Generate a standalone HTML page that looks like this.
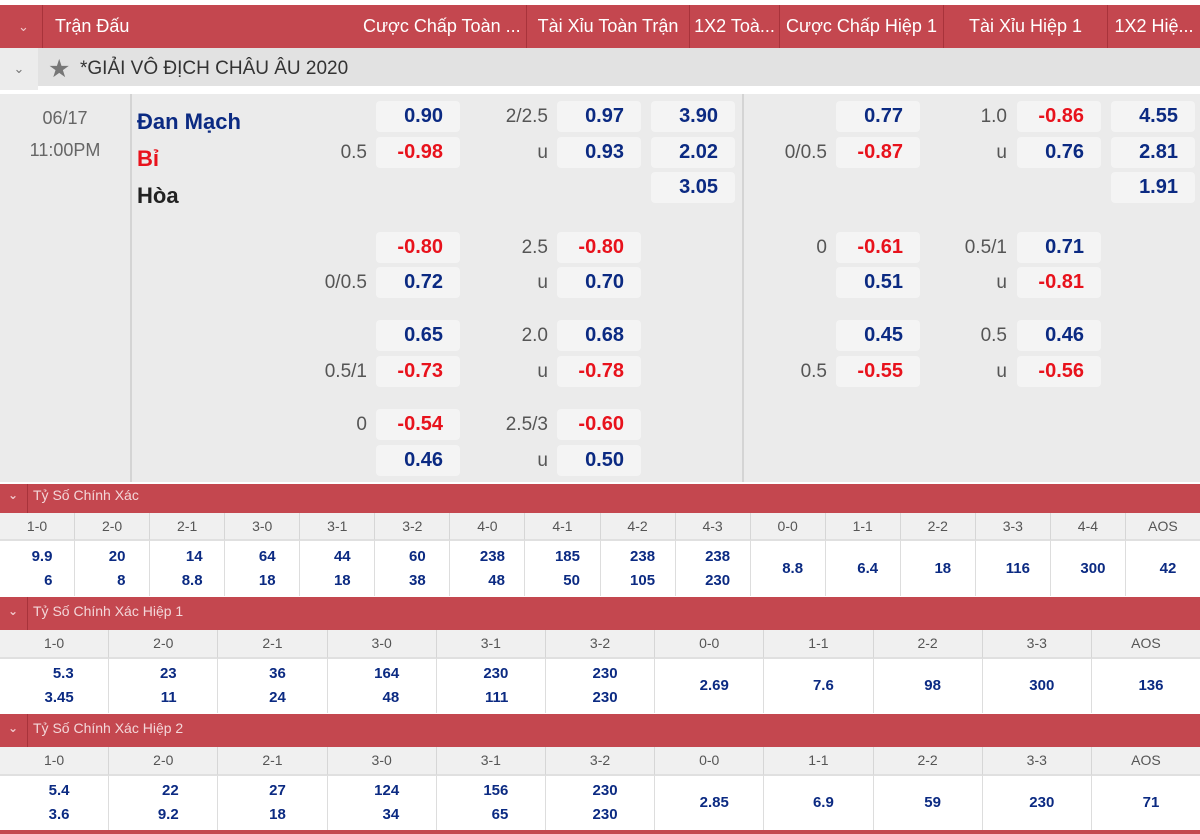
<!DOCTYPE html>
<html><head><meta charset="utf-8"><style>
*{margin:0;padding:0;box-sizing:border-box}
body{width:1200px;height:834px;overflow:hidden;background:#fff;font-family:"Liberation Sans","DejaVu Sans",sans-serif;position:relative}
.a{position:absolute}
.hd{top:5px;left:0;width:1200px;height:43px;background:#c4474f;color:#fff;font-size:18px}
.hd div{position:absolute;top:0;height:43px;line-height:43px;border-right:1px solid #a8333b;white-space:nowrap;overflow:hidden}
.lg{top:48px;left:0;width:1200px;height:42px;background:#e2e2e2;border-bottom:4px solid #fff}
.body{top:94px;left:0;width:1200px;height:388px;background:#ebebeb}
.b{position:absolute;width:84px;height:31px;line-height:31px;background:#f4f4f4;border-radius:4px;text-align:right;padding-right:17px;font-weight:bold;font-size:20px;color:#0b2a82}
.r{color:#e8121c}
.l{position:absolute;height:31px;line-height:31px;text-align:right;font-size:19px;color:#555;width:80px}
.bar{left:0;width:1200px;background:#c4474f;color:#f3d7d9;font-size:14px}
.bar span{position:absolute;left:33px}
.bar i{position:absolute;left:27px;top:0;bottom:0;border-left:1px solid #a8333b}
.hr{left:0;width:1200px;display:flex;background:#f0f0f0;font-size:14px;color:#555}
.hr div{flex:1;text-align:center;border-right:1px solid #d6d6d6;border-bottom:2px solid #e0e0e0}
.dr{left:0;width:1200px;display:flex;background:#fff;font-size:15px;font-weight:bold;color:#0b2a82}
.dr div{flex:1;border-right:1px solid #ddd;display:flex;align-items:center;justify-content:center;padding-left:10px;text-align:right;line-height:24px}
.chev{position:absolute;font-size:12px;color:#999}
</style></head><body>
<div class="a hd">
<div style="left:5px;width:38px;text-align:center;font-size:13px;color:#f0c8cb">&#8964;</div>
<div style="left:43px;width:484px;padding-left:12px">Trận Đấu<span style="position:absolute;left:320px">Cược Chấp Toàn ...</span></div>
<div style="left:527px;width:163px;text-align:center">Tài Xỉu Toàn Trận</div>
<div style="left:690px;width:90px;text-align:center">1X2 Toà...</div>
<div style="left:780px;width:164px;text-align:center">Cược Chấp Hiệp 1</div>
<div style="left:944px;width:164px;text-align:center">Tài Xỉu Hiệp 1</div>
<div style="left:1108px;width:92px;text-align:center;border:none">1X2 Hiệ...</div>
</div>
<div class="a lg">
<div class="a" style="left:0;top:0;width:38px;height:42px;line-height:42px;text-align:center;color:#777;font-size:13px;background:#ececec">&#8964;</div>
<div class="a" style="left:48px;top:6px;font-size:25px;color:#777">&#9733;</div>
<div class="a" style="left:80px;top:0;line-height:42px;font-size:19px;color:#333">*GIẢI VÔ ĐỊCH CHÂU ÂU 2020</div>
</div>
<div class="a body">
<div class="a" style="left:130px;top:0;width:2px;height:388px;background:#d4d4d4"></div>
<div class="a" style="left:742px;top:0;width:2px;height:388px;background:#d4d4d4"></div>
<div class="a" style="left:0;top:8px;width:130px;text-align:center;font-size:18px;color:#666;line-height:32px">06/17<br>11:00PM</div>
<div class="a" style="left:137px;top:9px;font-size:22px;font-weight:bold;line-height:37px"><span style="color:#0b2a82">Đan Mạch</span><br><span style="color:#e8121c">Bỉ</span><br><span style="color:#222">Hòa</span></div>
</div>
<div class="a" style="left:0;top:0;width:1200px;height:834px">
<!-- row1 y=101 -->
<div class="b" style="left:376px;top:101px">0.90</div>
<div class="l" style="left:468px;top:101px">2/2.5</div>
<div class="b" style="left:557px;top:101px">0.97</div>
<div class="b" style="left:651px;top:101px">3.90</div>
<div class="b" style="left:836px;top:101px">0.77</div>
<div class="l" style="left:927px;top:101px">1.0</div>
<div class="b r" style="left:1017px;top:101px">-0.86</div>
<div class="b" style="left:1111px;top:101px">4.55</div>
<!-- row2 y=137 -->
<div class="l" style="left:287px;top:137px">0.5</div>
<div class="b r" style="left:376px;top:137px">-0.98</div>
<div class="l" style="left:468px;top:137px">u</div>
<div class="b" style="left:557px;top:137px">0.93</div>
<div class="b" style="left:651px;top:137px">2.02</div>
<div class="l" style="left:747px;top:137px">0/0.5</div>
<div class="b r" style="left:836px;top:137px">-0.87</div>
<div class="l" style="left:927px;top:137px">u</div>
<div class="b" style="left:1017px;top:137px">0.76</div>
<div class="b" style="left:1111px;top:137px">2.81</div>
<!-- row3 y=172 -->
<div class="b" style="left:651px;top:172px">3.05</div>
<div class="b" style="left:1111px;top:172px">1.91</div>
<!-- row4 y=232 -->
<div class="b r" style="left:376px;top:232px">-0.80</div>
<div class="l" style="left:468px;top:232px">2.5</div>
<div class="b r" style="left:557px;top:232px">-0.80</div>
<div class="l" style="left:747px;top:232px">0</div>
<div class="b r" style="left:836px;top:232px">-0.61</div>
<div class="l" style="left:927px;top:232px">0.5/1</div>
<div class="b" style="left:1017px;top:232px">0.71</div>
<!-- row5 y=267 -->
<div class="l" style="left:287px;top:267px">0/0.5</div>
<div class="b" style="left:376px;top:267px">0.72</div>
<div class="l" style="left:468px;top:267px">u</div>
<div class="b" style="left:557px;top:267px">0.70</div>
<div class="b" style="left:836px;top:267px">0.51</div>
<div class="l" style="left:927px;top:267px">u</div>
<div class="b r" style="left:1017px;top:267px">-0.81</div>
<!-- row6 y=320 -->
<div class="b" style="left:376px;top:320px">0.65</div>
<div class="l" style="left:468px;top:320px">2.0</div>
<div class="b" style="left:557px;top:320px">0.68</div>
<div class="b" style="left:836px;top:320px">0.45</div>
<div class="l" style="left:927px;top:320px">0.5</div>
<div class="b" style="left:1017px;top:320px">0.46</div>
<!-- row7 y=356 -->
<div class="l" style="left:287px;top:356px">0.5/1</div>
<div class="b r" style="left:376px;top:356px">-0.73</div>
<div class="l" style="left:468px;top:356px">u</div>
<div class="b r" style="left:557px;top:356px">-0.78</div>
<div class="l" style="left:747px;top:356px">0.5</div>
<div class="b r" style="left:836px;top:356px">-0.55</div>
<div class="l" style="left:927px;top:356px">u</div>
<div class="b r" style="left:1017px;top:356px">-0.56</div>
<!-- row8 y=409 -->
<div class="l" style="left:287px;top:409px">0</div>
<div class="b r" style="left:376px;top:409px">-0.54</div>
<div class="l" style="left:468px;top:409px">2.5/3</div>
<div class="b r" style="left:557px;top:409px">-0.60</div>
<!-- row9 y=445 -->
<div class="b" style="left:376px;top:445px">0.46</div>
<div class="l" style="left:468px;top:445px">u</div>
<div class="b" style="left:557px;top:445px">0.50</div>
</div>

<!-- Section 1 -->
<div class="a bar" style="top:484px;height:29px;line-height:22px"><b class="chev" style="left:8px;color:#f0c8cb">&#8964;</b><i></i><span>Tỷ Số Chính Xác</span></div>
<div class="a hr" style="top:513px;height:28px;line-height:26px">
<div>1-0</div><div>2-0</div><div>2-1</div><div>3-0</div><div>3-1</div><div>3-2</div><div>4-0</div><div>4-1</div><div>4-2</div><div>4-3</div><div>0-0</div><div>1-1</div><div>2-2</div><div>3-3</div><div>4-4</div><div style="border-right:none">AOS</div>
</div>
<div class="a dr" style="top:541px;height:55px">
<div>9.9<br>6</div><div>20<br>8</div><div>14<br>8.8</div><div>64<br>18</div><div>44<br>18</div><div>60<br>38</div><div>238<br>48</div><div>185<br>50</div><div>238<br>105</div><div>238<br>230</div><div>8.8</div><div>6.4</div><div>18</div><div>116</div><div>300</div><div style="border-right:none">42</div>
</div>

<!-- Section 2 -->
<div class="a bar" style="top:597px;height:33px;line-height:28px"><b class="chev" style="left:8px;color:#f0c8cb">&#8964;</b><i></i><span>Tỷ Số Chính Xác Hiệp 1</span></div>
<div class="a hr" style="top:630px;height:29px;line-height:27px">
<div>1-0</div><div>2-0</div><div>2-1</div><div>3-0</div><div>3-1</div><div>3-2</div><div>0-0</div><div>1-1</div><div>2-2</div><div>3-3</div><div style="border-right:none">AOS</div>
</div>
<div class="a dr" style="top:659px;height:54px">
<div>5.3<br>3.45</div><div>23<br>11</div><div>36<br>24</div><div>164<br>48</div><div>230<br>111</div><div>230<br>230</div><div>2.69</div><div>7.6</div><div>98</div><div>300</div><div style="border-right:none">136</div>
</div>

<!-- Section 3 -->
<div class="a bar" style="top:714px;height:33px;line-height:28px"><b class="chev" style="left:8px;color:#f0c8cb">&#8964;</b><i></i><span>Tỷ Số Chính Xác Hiệp 2</span></div>
<div class="a hr" style="top:747px;height:29px;line-height:27px">
<div>1-0</div><div>2-0</div><div>2-1</div><div>3-0</div><div>3-1</div><div>3-2</div><div>0-0</div><div>1-1</div><div>2-2</div><div>3-3</div><div style="border-right:none">AOS</div>
</div>
<div class="a dr" style="top:776px;height:54px">
<div>5.4<br>3.6</div><div>22<br>9.2</div><div>27<br>18</div><div>124<br>34</div><div>156<br>65</div><div>230<br>230</div><div>2.85</div><div>6.9</div><div>59</div><div>230</div><div style="border-right:none">71</div>
</div>
<div class="a" style="top:830px;left:0;width:1200px;height:4px;background:#c4474f"></div>
</body></html>
